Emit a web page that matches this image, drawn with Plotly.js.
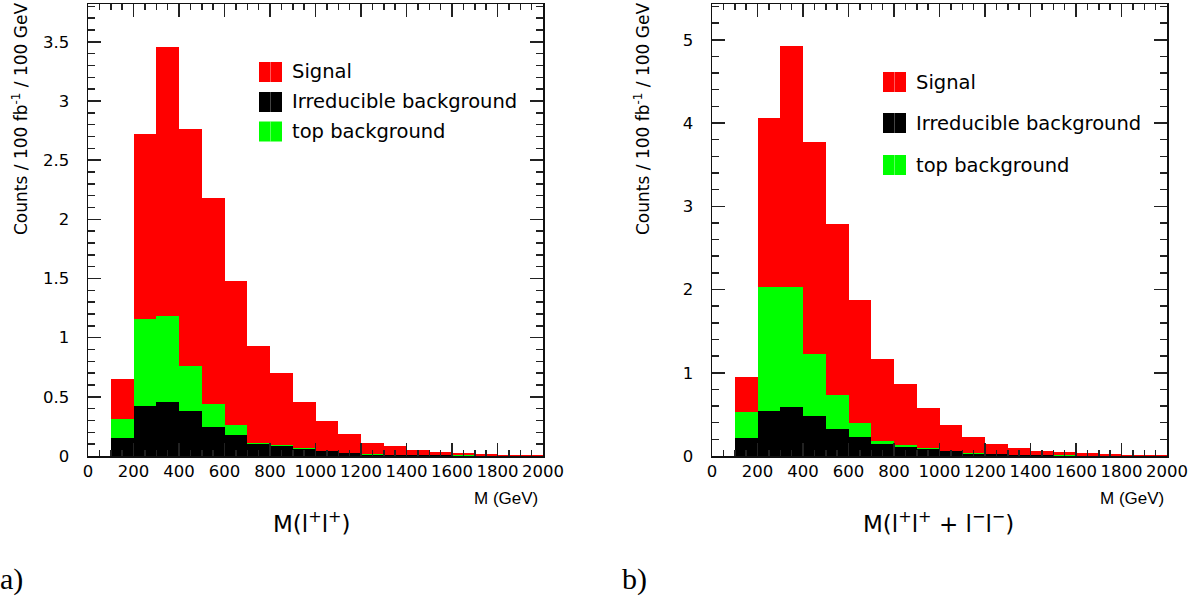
<!DOCTYPE html>
<html>
<head>
<meta charset="utf-8">
<script src="https://cdn.plot.ly/plotly-3.0.1.min.js"></script>
<style>html,body{margin:0;padding:0;background:#fff;}#chart{width:1196px;height:599px;}</style>
</head>
<body>
<div id="chart"></div>
<script>
// Bin centres (GeV), 100 GeV bins from 100 to 2000
const binCenters = [150, 250, 350, 450, 550, 650, 750, 850, 950, 1050, 1150, 1250, 1350, 1450, 1550, 1650, 1750, 1850, 1950];

// Panel a) M(l+l+)
const irreducibleA = [0.155, 0.42, 0.46, 0.38, 0.245, 0.175, 0.10, 0.082, 0.057, 0.04, 0.025, 0.012, 0.01, 0.008, 0.006, 0.004, 0.003, 0.002, 0.002];
const topBkgA      = [0.155, 0.74, 0.72, 0.38, 0.195, 0.085, 0.01, 0.011, 0.011, 0.002, 0.003, 0.003, 0.002, 0.001, 0.001, 0.001, 0.001, 0.001, 0.0];
const signalA      = [0.34, 1.56, 2.28, 2.00, 1.74, 1.22, 0.82, 0.607, 0.392, 0.258, 0.158, 0.093, 0.07, 0.041, 0.029, 0.02, 0.012, 0.008, 0.006];

// Panel b) M(l+l+ + l-l-)
const irreducibleB = [0.216, 0.54, 0.585, 0.485, 0.33, 0.23, 0.15, 0.108, 0.08, 0.055, 0.03, 0.02, 0.012, 0.008, 0.006, 0.005, 0.003, 0.002, 0.002];
const topBkgB      = [0.314, 1.49, 1.445, 0.745, 0.40, 0.17, 0.03, 0.022, 0.02, 0.005, 0.005, 0.002, 0.003, 0.002, 0.002, 0.001, 0.001, 0.001, 0.0];
const signalB      = [0.42, 2.03, 2.89, 2.54, 2.06, 1.47, 0.98, 0.73, 0.48, 0.31, 0.19, 0.118, 0.081, 0.054, 0.04, 0.026, 0.02, 0.013, 0.006];

const seriesNames = ["Signal", "Irreducible background", "top background"];
const seriesColors = ["#ff0000", "#000000", "#00ff00"];

const W = 1196, H = 599;
const px = x => x / W;
const py = y => 1 - y / H;

function bar(y, name, color, xa, ya) {
  return {type: "bar", x: binCenters, y: y, name: name, width: 100, xaxis: xa, yaxis: ya,
    marker: {color: color, line: {width: 0}}, showlegend: false, hoverinfo: "skip"};
}

const traces = [
  bar(irreducibleA, seriesNames[1], seriesColors[1], "x", "y"),
  bar(topBkgA, seriesNames[2], seriesColors[2], "x", "y"),
  bar(signalA, seriesNames[0], seriesColors[0], "x", "y"),
  bar(irreducibleB, seriesNames[1], seriesColors[1], "x2", "y2"),
  bar(topBkgB, seriesNames[2], seriesColors[2], "x2", "y2"),
  bar(signalB, seriesNames[0], seriesColors[0], "x2", "y2")
];

const tickFont = {family: "DejaVu Sans", size: 16.5, color: "#000"};
function xAxis(dom, anchor) {
  return {domain: dom, anchor: anchor, range: [0, 2000], tick0: 0, dtick: 200,
    ticks: "inside", ticklen: 13, tickwidth: 1.5, tickcolor: "#222",
    minor: {dtick: 50, ticks: "inside", ticklen: 6, tickwidth: 1.5, tickcolor: "#222"},
    showline: true, linecolor: "#111", linewidth: 1.5, mirror: "ticks",
    showgrid: false, zeroline: false, tickfont: tickFont, fixedrange: true};
}
function yAxis(range, dtick, minorDtick, anchor) {
  return {domain: [py(456), py(4)], anchor: anchor, range: range, tick0: 0, dtick: dtick,
    ticks: "inside", ticklen: 13, tickwidth: 1.5, tickcolor: "#222",
    minor: {dtick: minorDtick, ticks: "inside", ticklen: 7, tickwidth: 1.5, tickcolor: "#222"},
    showline: true, linecolor: "#111", linewidth: 1.5, mirror: "ticks",
    showgrid: false, zeroline: false, tickfont: tickFont, ticklabelstandoff: 14, fixedrange: true};
}

const shapes = [];
const annotations = [];

function legend(boxLeft, textLeft, rowsY) {
  [0, 1, 2].forEach((i, k) => {
    const yc = rowsY[k];
    shapes.push({type: "rect", xref: "paper", yref: "paper",
      x0: px(boxLeft), x1: px(boxLeft + 23), y0: py(yc + 10), y1: py(yc - 10),
      fillcolor: seriesColors[i], line: {width: 0}});
    shapes.push({type: "line", xref: "paper", yref: "paper",
      x0: px(boxLeft + 11.5), x1: px(boxLeft + 11.5), y0: py(yc + 10), y1: py(yc - 10),
      line: {width: 1, color: i === 1 ? "#444" : "rgba(255,255,255,0.35)"}});
    annotations.push({xref: "paper", yref: "paper", x: px(textLeft), y: py(yc),
      xanchor: "left", yanchor: "middle", showarrow: false, text: seriesNames[i],
      font: {family: "DejaVu Sans", size: 19.5, color: "#000"}});
  });
}
legend(259, 290, [72, 102, 131.5]);
legend(883, 914, [82, 123, 165]);

const yTitle = "Counts / 100 fb<sup>-1</sup> / 100 GeV";
[20, 642].forEach(xc => {
  annotations.push({xref: "paper", yref: "paper", x: px(xc), y: py(1), xanchor: "center", yanchor: "top",
    textangle: -90, showarrow: false, text: yTitle, font: {family: "DejaVu Sans", size: 17, color: "#000"}});
});

[506, 1132].forEach(xc => {
  annotations.push({xref: "paper", yref: "paper", x: px(xc), y: py(498), xanchor: "center", yanchor: "middle",
    showarrow: false, text: "M (GeV)", font: {family: "Liberation Sans", size: 17, color: "#000"}});
});

annotations.push({xref: "paper", yref: "paper", x: px(312), y: py(522), xanchor: "center", yanchor: "middle",
  showarrow: false, text: "M(l<sup>+</sup>l<sup>+</sup>)", font: {family: "DejaVu Sans", size: 23, color: "#000"}});
annotations.push({xref: "paper", yref: "paper", x: px(938), y: py(522), xanchor: "center", yanchor: "middle",
  showarrow: false, text: "M(l<sup>+</sup>l<sup>+</sup> + l<sup>−</sup>l<sup>−</sup>)", font: {family: "DejaVu Sans", size: 23, color: "#000"}});

annotations.push({xref: "paper", yref: "paper", x: px(-2), y: py(579), xanchor: "left", yanchor: "middle",
  showarrow: false, text: "a)", font: {family: "Liberation Serif", size: 30, color: "#000"}});
annotations.push({xref: "paper", yref: "paper", x: px(620), y: py(579), xanchor: "left", yanchor: "middle",
  showarrow: false, text: "b)", font: {family: "Liberation Serif", size: 30, color: "#000"}});

const layout = {
  width: W, height: H, margin: {l: 0, r: 0, t: 0, b: 0, pad: 0},
  paper_bgcolor: "#fff", plot_bgcolor: "#fff",
  barmode: "stack", bargap: 0, showlegend: false,
  xaxis: xAxis([px(88), px(543)], "y"),
  yaxis: yAxis([0, 3.82], 0.5, 0.1, "x"),
  xaxis2: xAxis([px(712), px(1167)], "y2"),
  yaxis2: yAxis([0, 5.43], 1, 0.2, "x2"),
  shapes: shapes, annotations: annotations
};

Plotly.newPlot("chart", traces, layout, {displayModeBar: false, staticPlot: true});
</script>
</body>
</html>
